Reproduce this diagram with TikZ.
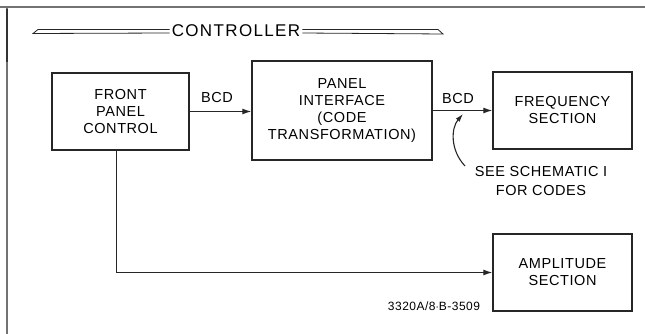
\documentclass[tikz,border=0pt]{standalone}
\usepackage{fontspec}
\setmainfont{Liberation Sans}[LetterSpace=4]
\usetikzlibrary{arrows.meta,calc}
\begin{document}
\begin{tikzpicture}[x=1pt,y=-1pt,
  blk/.style={draw=black!85,line width=1.5pt,inner sep=0pt,align=center,
     font=\fontsize{14.5}{17}\selectfont},
  lbl/.style={inner sep=0pt,font=\fontsize{14.5}{19}\selectfont,align=center},
  conn/.style={draw=black!85,line width=1pt},
  arr/.style={conn,-{Latex[length=9pt,width=6pt]}},
  frame/.style={draw=black!55,line width=1.2pt}]
\useasboundingbox (0,0) rectangle (645,334);
% frame
\draw[frame] (0,7) -- (645,7);
\draw[frame] (7,7) -- (7,334);
\draw[draw=black!80,line width=2pt] (7,9) -- (7,62);
% title
\node[inner sep=0pt,font=\fontsize{17}{20}\selectfont\addfontfeature{LetterSpace=8}] (title) at (236,31) {CONTROLLER};
\draw[conn,line width=0.8pt] ($(title.west)+(-2,-1.5)$) -- (38,29.5) -- (33,33.5) -- ($(title.west)+(-2,2)$);
\draw[conn,line width=0.8pt] ($(title.east)+(2,-1.5)$) -- (438,29.5) -- (443,34) -- ($(title.east)+(2,2)$);
% blocks
\node[blk,minimum width=137,minimum height=77] (fpc) at (120.5,111.5) {FRONT\\PANEL\\CONTROL};
\node[blk,minimum width=180,minimum height=99] (pi) at (342,110.5) {PANEL\\INTERFACE\\(CODE\\TRANSFORMATION)};
\node[blk,minimum width=139,minimum height=77] (fs) at (562.5,110.5) {FREQUENCY\\SECTION};
\node[blk,minimum width=139,minimum height=77] (as) at (562.5,272.5) {AMPLITUDE\\SECTION};
% labels
\node[lbl] (bcd1) at (217,98) {BCD};
\node[lbl] (bcd2) at (458,99) {BCD};
\node[lbl] (note) at (541,181.5) {SEE SCHEMATIC I\\FOR CODES};
\node[inner sep=0pt,font=\fontsize{12}{13}\selectfont] (num) at (434,306) {3320A/8$\cdot$B-3509};
% connectors
\draw[arr] (fpc.east) -- (fpc.east -| pi.west);
\draw[arr] (pi.east) -- (pi.east -| fs.west);
\coordinate (tap) at (116,150);
\draw[arr] (tap) |- (as.west);
\coordinate (nt) at (465,166);
\coordinate (nh) at (463,114);
\draw[conn,line width=1.1pt,-{Latex[length=8pt,width=5pt]}] (nt) .. controls (450,150) and (451,128) .. (nh);
\end{tikzpicture}
\end{document}
